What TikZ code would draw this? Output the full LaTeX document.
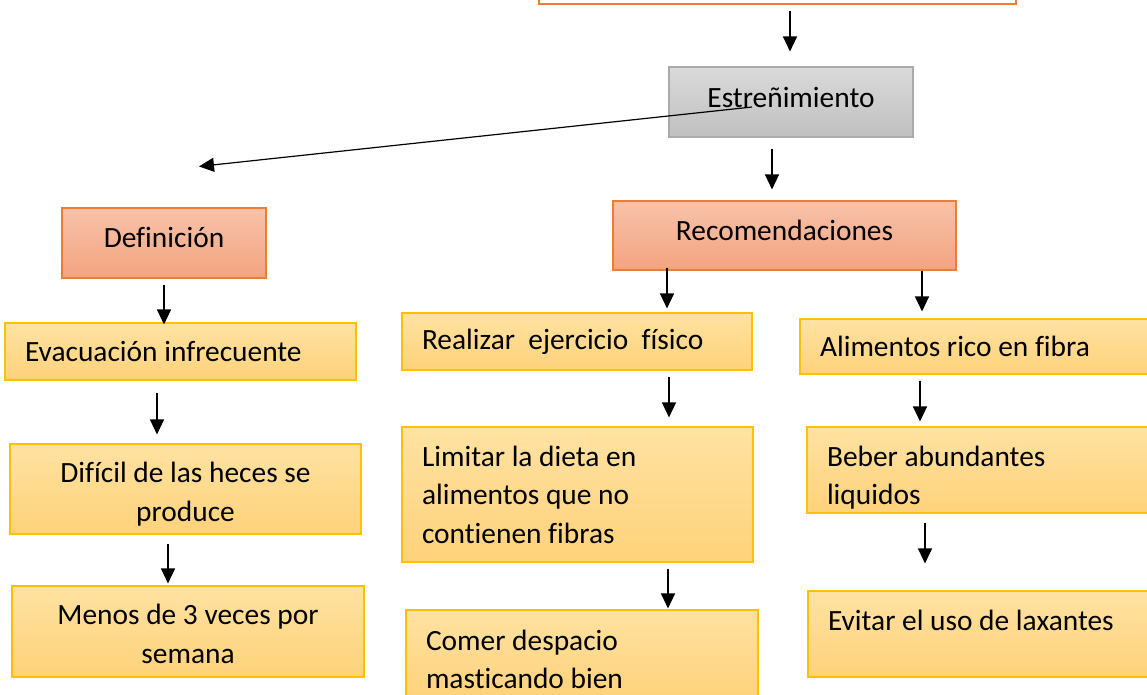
\documentclass[tikz,border=0pt]{standalone}
\usepackage{fontspec}
\setmainfont{Carlito}[Ligatures=NoCommon]
\usetikzlibrary{arrows.meta,calc}

\definecolor{naranja}{RGB}{237,125,49}
\definecolor{grisA}{RGB}{218,218,218}
\definecolor{grisB}{RGB}{192,192,192}
\definecolor{grisborde}{RGB}{170,170,170}
\definecolor{salmonA}{RGB}{247,194,170}
\definecolor{salmonB}{RGB}{243,164,128}
\definecolor{amarilloA}{RGB}{255,226,162}
\definecolor{amarilloB}{RGB}{254,210,122}
\definecolor{amarilloborde}{RGB}{255,192,0}

\tikzset{
  caja/.style={rectangle, inner sep=0pt, line width=1.1pt, font={\fontsize{29.4}{38.4}\selectfont}},
  gris/.style={caja, draw=grisborde, top color=grisA, bottom color=grisB, text depth=10pt},
  salmon/.style={caja, draw=naranja, top color=salmonA, bottom color=salmonB, text depth=11pt},
  amarillo/.style={caja, draw=amarilloborde, top color=amarilloA, bottom color=amarilloB},
  izq/.style={align=flush left, inner xsep=20pt},
  centro/.style={align=flush center, inner xsep=20pt},
  flecha/.style={-{Triangle[width=14pt,length=15pt]}, line width=1.2pt}
}

\begin{document}
\begin{tikzpicture}[x=1pt,y=1pt,yscale=-1]
    \useasboundingbox (0,0) rectangle (1147,694);
    \clip (0,0) rectangle (1147,694);

    %Cajas de arriba
    \node[caja, draw=naranja, line width=2.5pt, fill=white, minimum width=477pt, minimum height=40pt] (titulo) at (777.5,-16) {};
    \node[gris, minimum width=244pt, minimum height=70pt] (estr) at (791,102) {Estreñimiento};
    \node[salmon, minimum width=204pt, minimum height=70pt] (defin) at (164,243) {Definición};
    \node[salmon, minimum width=343pt, minimum height=69pt] (recom) at (784.5,235.5) {Recomendaciones};

    %Columna izquierda
    \node[amarillo, izq, text width=311pt, minimum width=351pt, minimum height=57pt] (evac) at (180.5,351.5) {Evacuación infrecuente};
    \node[amarillo, centro, text width=311pt, text height=31pt, minimum width=351pt, minimum height=90pt] (dificil) at (185.5,489) {Difícil de las heces se\\produce};
    \node[amarillo, centro, text width=312pt, text height=25pt, minimum width=352pt, minimum height=91pt] (menos) at (188,631.5) {Menos de 3 veces por\\semana};

    %Columna del medio
    \node[amarillo, izq, text width=310pt, minimum width=350pt, minimum height=57pt] (realizar) at (577,341.5) {Realizar\ \ ejercicio\ \ físico};
    \node[amarillo, izq, text width=311pt, minimum width=351pt, minimum height=135pt] (limitar) at (577.5,494.5) {Limitar la dieta en\\alimentos que no\\contienen fibras};
    \node[amarillo, izq, text width=312pt, text height=29pt, minimum width=352pt, minimum height=90pt] (comer) at (582,655) {Comer despacio\\masticando bien};

    %Columna derecha
    \node[amarillo, izq, text width=320pt, minimum width=360pt, minimum height=55pt] (alimentos) at (980,346.5) {Alimentos rico en fibra};
    \node[amarillo, izq, text width=313pt, text height=36pt, minimum width=353pt, minimum height=86pt] (beber) at (983.5,470) {Beber abundantes\\liquidos};
    \node[amarillo, izq, text width=312pt, text height=31pt, minimum width=352pt, minimum height=86pt] (evitar) at (984,634) {Evitar el uso de laxantes\\\mbox{}};

    %Flechas
    \draw[flecha] ($(titulo.south)+(12.5,6)$) -- ($(estr.north)+(-1,-15)$);
    \draw[flecha] ($(estr.center)+(-39,5)$) -- ($(defin.north)+(35,-41)$);
    \draw[flecha] ($(estr.south)+(-19,11)$) -- ($(recom.north)+(-12.5,-11)$);
    \draw[flecha] ($(defin.south)+(0,6)$) -- ($(evac.north)+(-16.5,2)$);
    \draw[flecha] ($(evac.south)+(-23.5,12)$) -- ($(dificil.north)+(-28.5,-9)$);
    \draw[flecha] ($(dificil.south)+(-17.5,9)$) -- ($(menos.north)+(-20,-2)$);
    \draw[flecha] ($(recom.south)+(-117.5,-3)$) -- ($(realizar.north)+(90,-4)$);
    \draw[flecha] ($(recom.south)+(137.5,0)$) -- ($(alimentos.north)+(-58,-7)$);
    \draw[flecha] ($(realizar.south)+(92,6)$) -- ($(limitar.north)+(91.5,-9)$);
    \draw[flecha] ($(alimentos.south)+(-60,6)$) -- ($(beber.north)+(-63.5,-5)$);
    \draw[flecha] ($(limitar.south)+(90.5,6)$) -- ($(comer.north)+(86,-1)$);
    \draw[flecha] ($(beber.south)+(-58.5,9)$) -- ($(evitar.north)+(-59,-27)$);

\end{tikzpicture}
\end{document}
